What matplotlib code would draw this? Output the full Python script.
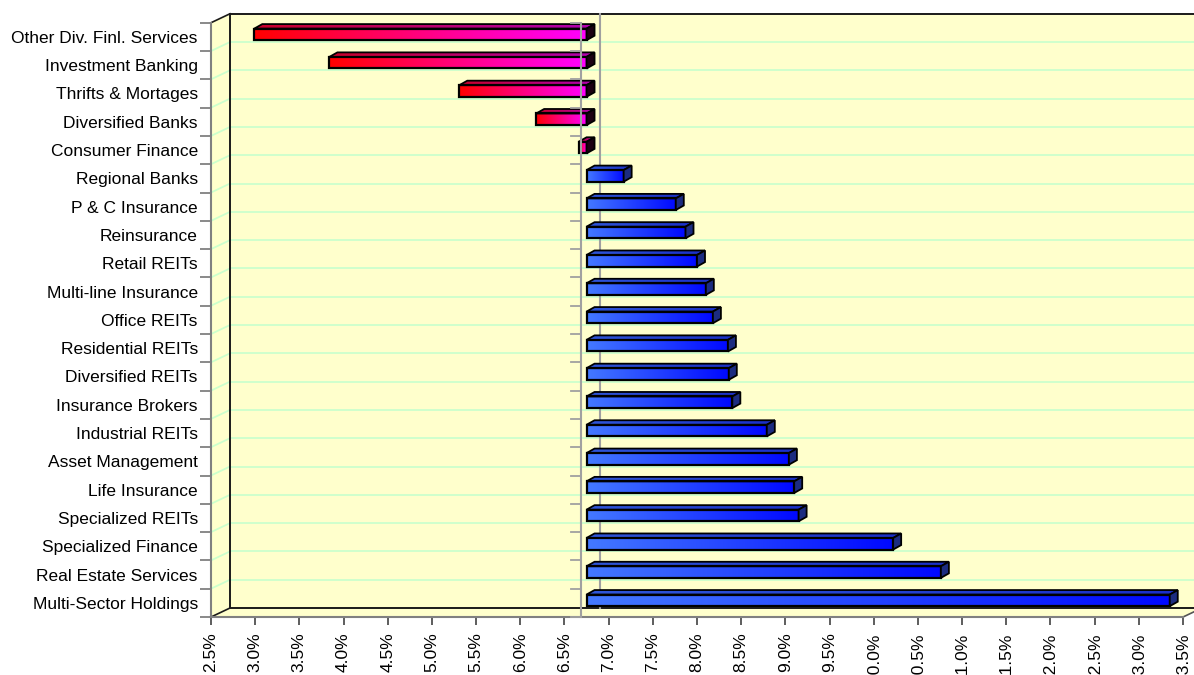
import numpy as np
import matplotlib.pyplot as plt
from matplotlib.patches import Polygon, Rectangle
from matplotlib.colors import LinearSegmentedColormap

plt.rcParams['font.family'] = ['Liberation Sans', 'DejaVu Sans']

# sub-industry returns, top to bottom
industries = ["Other Div. Finl. Services", "Investment Banking", "Thrifts & Mortages",
              "Diversified Banks", "Consumer Finance", "Regional Banks", "P & C Insurance",
              "Reinsurance", "Retail REITs", "Multi-line Insurance", "Office REITs",
              "Residential REITs", "Diversified REITs", "Insurance Brokers", "Industrial REITs",
              "Asset Management", "Life Insurance", "Specialized REITs", "Specialized Finance",
              "Real Estate Services", "Multi-Sector Holdings"]
returns = [2.93, 3.78, 5.25, 6.12, 6.60, 7.11, 7.70, 7.81, 7.94, 8.04, 8.12,
           8.29, 8.30, 8.34, 8.73, 8.98, 9.04, 9.09, 10.16, 10.70, 13.29]
average = 6.69  # bars grow out of this value
x_ticks = np.arange(2.5, 13.51, 0.5)

fig = plt.figure(figsize=(11.94, 6.75), dpi=100)
ax = fig.add_axes([0.1767, 0.0859, 0.8141, 0.8804])
n = len(industries)
xa, xb = x_ticks[0], x_ticks[-1]
lo, hi = -0.5, n - 0.5
ax.set_xlim(xa, xb)
ax.set_ylim(hi, lo)
ax.set_autoscale_on(False)
ax.patch.set_visible(False)

# size of one data unit in pixels, for the fake 3d depth
(x0p, y0p), (x1p, y1p) = ax.transData.transform([(0, 0), (1, 1)])
ux = x1p - x0p
uy = y0p - y1p


def shift(px, py):
    # px to the right, py upwards -> data units
    return px / ux, -py / uy


wall = '#ffffcc'
grid_c = '#ccffcc'
edge = '#1a1a1a'
bx, by = shift(19, 9)

# walls and floor
ax.add_patch(Polygon([(xa + bx, lo + by), (xb + bx, lo + by), (xb + bx, hi + by), (xa + bx, hi + by)],
                     fc=wall, ec='none', zorder=0, clip_on=False))
ax.add_patch(Polygon([(xa, lo), (xa + bx, lo + by), (xa + bx, hi + by), (xa, hi)],
                     fc=wall, ec='none', zorder=0, clip_on=False))
ax.add_patch(Polygon([(xa, hi), (xb, hi), (xb + bx, hi + by), (xa + bx, hi + by)],
                     fc=wall, ec='none', zorder=0, clip_on=False))

# gridlines on the back and side wall
for b in np.arange(lo + 1, hi):
    ax.plot([xa + bx, xb + bx], [b + by, b + by], color=grid_c, lw=1.3, zorder=1, clip_on=False)
    ax.plot([xa, xa + bx], [b, b + by], color=grid_c, lw=1.3, zorder=1, clip_on=False)

# wall edges
ax.plot([xa + bx, xb + bx], [lo + by, lo + by], color=edge, lw=1.4, zorder=2, clip_on=False)
ax.plot([xa + bx, xa + bx], [lo + by, hi + by], color=edge, lw=1.4, zorder=2, clip_on=False)
ax.plot([xa + bx, xb + bx], [hi + by, hi + by], color=edge, lw=1.4, zorder=2, clip_on=False)
ax.plot([xa, xa + bx], [lo, lo + by], color=edge, lw=1.2, zorder=2, clip_on=False)
ax.plot([xa, xa + bx], [hi, hi + by], color=edge, lw=1.2, zorder=2, clip_on=False)
ax.plot([xb, xb + bx], [hi, hi + by], color='#555555', lw=1.2, zorder=2, clip_on=False)

# average line, back and front
ax.plot([average + bx] * 2, [lo + by, hi + by], color='#a0a0a0', lw=1.5, zorder=2, clip_on=False)
ax.plot([average] * 2, [lo, hi], color='#a0a0a0', lw=1.5, zorder=6, clip_on=False)
tick_w = shift(10, 0)[0]
for b in np.arange(lo, hi + 0.01):
    ax.plot([average - tick_w, average], [b, b], color='#a0a0a0', lw=1.3, zorder=6, clip_on=False)

# bars
red_cmap = LinearSegmentedColormap.from_list('neg', ['#ff0000', '#ff00ff'])
red_top = LinearSegmentedColormap.from_list('neg_top', ['#c8002a', '#b000b0'])
blue_cmap = LinearSegmentedColormap.from_list('pos', ['#4479ff', '#0008ff'])
blue_top = LinearSegmentedColormap.from_list('pos_top', ['#2f56d8', '#1a2fc8'])
fx, fy = shift(5.3, 2.5)
dx, dy = shift(8, 4.5)
hh = 5.8 / uy
grad = np.linspace(0, 1, 256)[None, :]

for i, v in enumerate(returns):
    left, right = min(v, average) + fx, max(v, average) + fx
    top, bot = i + fy - hh, i + fy + hh
    if v < average:
        cmap, lid_cmap, side_c = red_cmap, red_top, '#1c0012'
    else:
        cmap, lid_cmap, side_c = blue_cmap, blue_top, '#1c2c80'

    face = Rectangle((left, top), right - left, bot - top, fc='none', ec='black', lw=1.6, zorder=4)
    ax.add_patch(face)
    im = ax.imshow(grad, cmap=cmap, extent=(left, right, bot, top), aspect='auto',
                   interpolation='bilinear', zorder=3.5)
    im.set_clip_path(face)

    lid = Polygon([(left, top), (right, top), (right + dx, top + dy), (left + dx, top + dy)],
                  fc='none', ec='black', lw=1.3, zorder=4)
    ax.add_patch(lid)
    im2 = ax.imshow(grad, cmap=lid_cmap, extent=(left, right + dx, top, top + dy), aspect='auto',
                    interpolation='bilinear', zorder=3.5)
    im2.set_clip_path(lid)

    side = Polygon([(right, top), (right, bot), (right + dx, bot + dy), (right + dx, top + dy)],
                   fc=side_c, ec='black', lw=1.3, zorder=4)
    ax.add_patch(side)

ax.set_xlim(xa, xb)
ax.set_ylim(hi, lo)

# axes, ticks and labels
for s in ['top', 'right']:
    ax.spines[s].set_visible(False)
for s in ['left', 'bottom']:
    ax.spines[s].set_color('#808080')
    ax.spines[s].set_linewidth(1.5)
    ax.spines[s].set_zorder(5)

ax.set_yticks(np.arange(lo, hi + 0.01))
ax.set_yticklabels([])
ax.set_yticks(range(n), minor=True)
ax.set_yticklabels(industries, minor=True, fontsize=12.5)
ax.tick_params(axis='y', which='major', length=8, width=1.3, color='#808080')
ax.tick_params(axis='y', which='minor', length=0, pad=9.5)

ax.set_xticks(x_ticks)
ax.set_xticklabels(['{:.1f}%'.format(t) for t in x_ticks], rotation=90, fontsize=12.5)
ax.tick_params(axis='x', length=6, width=1.3, color='#505050', pad=5)

fig.savefig('out.png', dpi=100)
